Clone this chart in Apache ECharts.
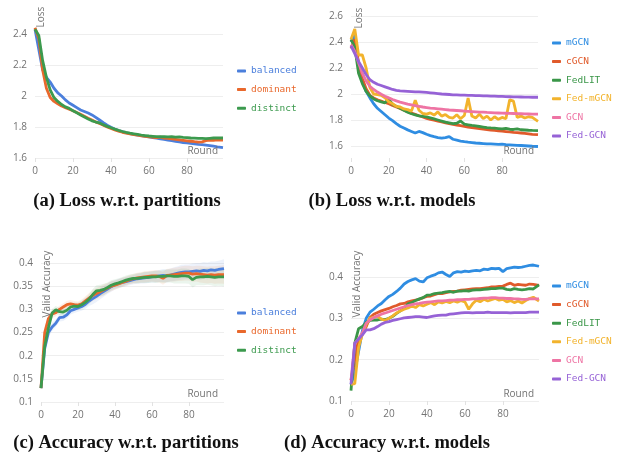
<!DOCTYPE html>
<html>
<head>
<meta charset="utf-8">
<script src="https://cdn.jsdelivr.net/npm/echarts@6/dist/echarts.min.js"></script>
<style>
html, body { margin: 0; padding: 0; background: #fff; }
#main { width: 621px; height: 469px; }
</style>
</head>
<body>
<div id="main"></div>
<script>
var rounds = [0,2,4,6,8,10,12,14,16,18,20,22,24,26,28,30,32,34,36,38,
  40,42,44,46,48,50,52,54,56,58,60,62,64,66,68,70,72,74,76,78,
  80,82,84,86,88,90,92,94,96,99];
var xTicks = [0, 20, 40, 60, 80];

var partitions = ['balanced', 'dominant', 'distinct'];
var models = ['mGCN', 'cGCN', 'FedLIT', 'Fed-mGCN', 'GCN', 'Fed-GCN'];

// (a) loss w.r.t. partitions
var lossBalanced = [2.43,2.30,2.17,2.12,2.09,2.05,2.02,2.00,1.975,1.955,
  1.94,1.925,1.91,1.90,1.89,1.878,1.862,1.845,1.828,1.812,
  1.798,1.787,1.777,1.770,1.763,1.757,1.752,1.748,1.744,1.740,
  1.736,1.732,1.728,1.724,1.720,1.716,1.712,1.708,1.704,1.700,
  1.697,1.694,1.691,1.688,1.686,1.683,1.680,1.676,1.672,1.667];
var lossDominant = [2.44,2.37,2.17,2.05,1.99,1.965,1.95,1.935,1.925,1.915,
  1.905,1.893,1.882,1.870,1.857,1.845,1.833,1.822,1.811,1.800,
  1.790,1.781,1.773,1.766,1.760,1.755,1.751,1.747,1.743,1.740,
  1.737,1.734,1.732,1.735,1.728,1.726,1.723,1.720,1.717,1.714,
  1.711,1.708,1.705,1.703,1.704,1.712,1.716,1.714,1.717,1.716];
var lossDistinct = [2.43,2.39,2.23,2.12,2.04,1.99,1.965,1.945,1.93,1.92,
  1.905,1.892,1.878,1.865,1.852,1.840,1.832,1.826,1.815,1.804,
  1.795,1.786,1.778,1.771,1.765,1.760,1.756,1.752,1.748,1.745,
  1.742,1.740,1.738,1.737,1.738,1.736,1.737,1.735,1.736,1.733,
  1.731,1.729,1.728,1.727,1.726,1.725,1.727,1.729,1.730,1.729];

// (b) loss w.r.t. models
var lossMGCN = [2.40,2.45,2.22,2.10,2.02,1.97,1.925,1.89,1.865,1.84,
  1.815,1.795,1.772,1.752,1.738,1.724,1.712,1.700,1.712,1.703,
  1.690,1.680,1.672,1.665,1.660,1.664,1.672,1.652,1.645,1.638,
  1.633,1.629,1.626,1.623,1.621,1.619,1.617,1.616,1.614,1.612,
  1.615,1.611,1.609,1.607,1.605,1.604,1.602,1.600,1.598,1.596];
var lossCGCN = [2.35,2.42,2.24,2.12,2.04,1.99,1.97,1.955,1.945,1.935,
  1.925,1.912,1.900,1.888,1.876,1.864,1.853,1.843,1.833,1.823,
  1.813,1.805,1.798,1.791,1.785,1.778,1.772,1.766,1.761,1.756,
  1.751,1.746,1.742,1.738,1.734,1.730,1.727,1.723,1.720,1.717,
  1.714,1.711,1.708,1.705,1.703,1.700,1.697,1.694,1.690,1.687];
var lossFedLIT = [2.42,2.36,2.16,2.08,2.02,1.985,1.962,1.948,1.94,1.932,
  1.962,1.920,1.905,1.890,1.875,1.860,1.848,1.840,1.832,1.828,
  1.824,1.816,1.808,1.800,1.792,1.784,1.778,1.772,1.775,1.792,
  1.768,1.763,1.758,1.754,1.750,1.746,1.742,1.739,1.737,1.734,
  1.731,1.735,1.729,1.727,1.732,1.725,1.723,1.721,1.720,1.719];
var lossFedMGCN = [2.42,2.50,2.30,2.30,2.20,2.05,2.00,1.995,1.99,1.97,
  1.94,1.925,1.905,1.900,1.885,1.880,1.868,1.952,1.875,1.850,
  1.845,1.855,1.838,1.862,1.830,1.842,1.820,1.815,1.840,1.810,
  1.835,1.968,1.830,1.815,1.845,1.810,1.830,1.800,1.825,1.805,
  1.820,1.810,1.955,1.945,1.820,1.830,1.815,1.825,1.820,1.790];
var lossGCN = [2.38,2.33,2.24,2.16,2.10,2.06,2.035,2.015,1.998,1.983,
  1.970,1.958,1.947,1.938,1.930,1.922,1.916,1.910,1.905,1.900,
  1.896,1.892,1.889,1.886,1.883,1.880,1.877,1.875,1.873,1.871,
  1.869,1.867,1.865,1.863,1.861,1.860,1.858,1.857,1.855,1.854,
  1.853,1.852,1.851,1.850,1.849,1.848,1.847,1.846,1.845,1.845];
var lossFedGCN = [2.37,2.31,2.25,2.20,2.15,2.11,2.09,2.075,2.065,2.055,
  2.045,2.035,2.028,2.024,2.022,2.020,2.018,2.016,2.016,2.014,
  2.012,2.009,2.006,2.003,2.000,1.998,1.996,1.994,1.993,1.992,
  1.991,1.990,1.989,1.988,1.987,1.986,1.985,1.984,1.983,1.982,
  1.981,1.980,1.979,1.978,1.978,1.977,1.976,1.976,1.975,1.975];

// (c) accuracy w.r.t. partitions
var accBalanced = [0.13,0.215,0.25,0.262,0.27,0.282,0.283,0.288,0.297,0.30,
  0.303,0.306,0.311,0.318,0.323,0.328,0.334,0.339,0.344,0.349,
  0.353,0.356,0.358,0.36,0.362,0.364,0.366,0.367,0.368,0.369,
  0.37,0.371,0.372,0.373,0.372,0.374,0.376,0.378,0.38,0.381,
  0.381,0.382,0.383,0.382,0.384,0.383,0.385,0.384,0.386,0.388];
var accDominant = [0.13,0.25,0.28,0.29,0.293,0.30,0.305,0.31,0.312,0.31,
  0.309,0.312,0.318,0.324,0.33,0.334,0.338,0.342,0.346,0.35,
  0.352,0.355,0.358,0.361,0.364,0.366,0.368,0.369,0.37,0.371,
  0.372,0.372,0.371,0.367,0.373,0.374,0.375,0.376,0.377,0.378,
  0.378,0.376,0.377,0.376,0.375,0.374,0.375,0.374,0.375,0.375];
var accDistinct = [0.13,0.22,0.26,0.292,0.299,0.295,0.294,0.298,0.305,0.307,
  0.306,0.31,0.315,0.322,0.332,0.34,0.341,0.343,0.347,0.352,
  0.355,0.357,0.36,0.363,0.365,0.367,0.367,0.368,0.369,0.369,
  0.37,0.37,0.371,0.371,0.372,0.372,0.371,0.371,0.372,0.372,
  0.371,0.364,0.369,0.37,0.37,0.371,0.37,0.369,0.37,0.37];
// half width of the shaded band round each partition curve
var accSpread = [0.004,0.010,0.010,0.009,0.008,0.008,0.008,0.008,0.008,0.008,
  0.008,0.009,0.010,0.011,0.012,0.012,0.012,0.012,0.011,0.011,
  0.010,0.010,0.010,0.010,0.010,0.010,0.011,0.011,0.012,0.012,
  0.012,0.013,0.013,0.014,0.014,0.014,0.015,0.015,0.016,0.016,
  0.016,0.017,0.017,0.018,0.018,0.018,0.018,0.019,0.019,0.020];

// (d) accuracy w.r.t. models
var accMGCN = [0.14,0.17,0.22,0.27,0.30,0.315,0.322,0.33,0.336,0.345,
  0.353,0.358,0.365,0.373,0.383,0.389,0.393,0.396,0.39,0.388,
  0.398,0.402,0.405,0.41,0.412,0.406,0.401,0.41,0.413,0.412,
  0.414,0.413,0.415,0.416,0.415,0.419,0.418,0.421,0.42,0.421,
  0.413,0.42,0.422,0.424,0.423,0.424,0.426,0.428,0.429,0.426];
var accCGCN = [0.15,0.20,0.25,0.262,0.28,0.302,0.31,0.314,0.318,0.321,
  0.324,0.328,0.331,0.335,0.336,0.34,0.342,0.344,0.346,0.35,
  0.353,0.354,0.357,0.36,0.36,0.362,0.364,0.365,0.366,0.368,
  0.369,0.37,0.371,0.372,0.372,0.373,0.374,0.376,0.376,0.377,
  0.378,0.382,0.385,0.38,0.382,0.381,0.38,0.383,0.382,0.38];
var accFedLIT = [0.125,0.24,0.275,0.28,0.29,0.295,0.296,0.296,0.298,0.297,
  0.30,0.305,0.312,0.318,0.325,0.335,0.338,0.343,0.347,0.35,
  0.356,0.357,0.36,0.361,0.362,0.364,0.365,0.363,0.366,0.366,
  0.367,0.366,0.368,0.369,0.369,0.37,0.371,0.372,0.372,0.373,
  0.373,0.37,0.369,0.372,0.37,0.369,0.37,0.372,0.371,0.381];
var accFedMGCN = [0.14,0.142,0.23,0.262,0.285,0.30,0.303,0.305,0.298,0.295,
  0.30,0.306,0.313,0.318,0.322,0.325,0.33,0.326,0.333,0.33,
  0.334,0.338,0.333,0.34,0.337,0.341,0.338,0.342,0.339,0.343,
  0.34,0.322,0.335,0.344,0.34,0.346,0.342,0.345,0.348,0.344,
  0.346,0.34,0.343,0.338,0.342,0.337,0.343,0.348,0.351,0.342];
var accGCN = [0.15,0.24,0.25,0.265,0.288,0.296,0.302,0.306,0.31,0.313,
  0.316,0.319,0.322,0.325,0.328,0.331,0.333,0.335,0.336,0.338,
  0.339,0.34,0.341,0.342,0.342,0.343,0.344,0.344,0.345,0.345,
  0.346,0.346,0.347,0.347,0.348,0.349,0.349,0.35,0.35,0.349,
  0.349,0.348,0.348,0.347,0.347,0.346,0.346,0.347,0.347,0.347];
var accFedGCN = [0.14,0.24,0.25,0.26,0.272,0.272,0.275,0.28,0.286,0.29,
  0.292,0.295,0.297,0.299,0.301,0.302,0.303,0.304,0.304,0.303,
  0.302,0.304,0.306,0.307,0.308,0.308,0.31,0.311,0.312,0.313,
  0.314,0.314,0.313,0.314,0.314,0.314,0.315,0.314,0.314,0.314,
  0.314,0.314,0.313,0.314,0.314,0.314,0.314,0.315,0.315,0.315];

var partColors = ['#4b7fdc', '#e9682c', '#3c9a4e'];
var modelColors = ['#2f8de2', '#e05a2b', '#3a9648', '#f2b32c', '#ee74a4', '#9662d6'];
var grey = '#737373';

function pairs(vals) {
    return rounds.map(function (r, i) { return [r, vals[i]]; });
}

function line(name, vals, idx, color) {
    return {
        name: name, type: 'line', xAxisIndex: idx, yAxisIndex: idx,
        data: pairs(vals), symbol: 'none', clip: false, z: 3,
        lineStyle: {width: 2.8, color: color},
        itemStyle: {color: color}
    };
}

// shaded std band drawn as one polygon through the axis scales
function band(vals, idx, color) {
    return {
        type: 'custom', xAxisIndex: idx, yAxisIndex: idx, silent: true, z: 1,
        data: [[0, vals[0]]],
        renderItem: function (params, api) {
            var up = rounds.map(function (r, i) { return api.coord([r, vals[i] + accSpread[i]]); });
            var down = rounds.map(function (r, i) { return api.coord([r, vals[i] - accSpread[i]]); }).reverse();
            return {
                type: 'polygon', shape: {points: up.concat(down)},
                style: {fill: color, opacity: 0.1}
            };
        }
    };
}

function xAxis(i, offset) {
    return {
        gridIndex: i, type: 'value', min: 0, max: 99, offset: offset || 0,
        axisLine: {show: false},
        axisTick: {show: true, length: 4, customValues: xTicks, lineStyle: {color: '#e2e2e2'}},
        axisLabel: {color: grey, fontSize: 10, fontFamily: 'Open Sans', margin: 8, customValues: xTicks},
        splitLine: {show: false}
    };
}

function yAxis(i, min, max, step) {
    return {
        gridIndex: i, type: 'value', min: min, max: max, interval: step,
        axisLine: {show: false}, axisTick: {show: false},
        axisLabel: {color: grey, fontSize: 10, fontFamily: 'Open Sans', margin: 8},
        splitLine: {lineStyle: {color: '#eeeeee'}}
    };
}

function legend(names, colors, left, top) {
    return {
        orient: 'vertical', left: left, top: top, padding: 0, itemGap: 6.6,
        icon: 'roundRect', itemWidth: 9, itemHeight: 3,
        textStyle: {fontFamily: 'DejaVu Sans Mono', fontSize: 9.5, lineHeight: 12},
        data: names.map(function (n, i) { return {name: n, textStyle: {color: colors[i]}}; })
    };
}

function label(text, x, y, rotate) {
    return {
        type: 'text', x: x, y: y, rotation: rotate ? Math.PI / 2 : 0, z: 10,
        style: {text: text, fill: grey, font: '10px "Open Sans"',
                textAlign: rotate ? 'center' : 'right', textVerticalAlign: 'middle'}
    };
}

function caption(text, x, y) {
    return {
        type: 'text', x: x, y: y, z: 10,
        style: {text: text, fill: '#111', font: 'bold 18.5px "Liberation Serif"',
                textAlign: 'center', textVerticalAlign: 'middle'}
    };
}

var series = [];
[lossBalanced, lossDominant, lossDistinct].forEach(function (v, i) {
    series.push(line(partitions[i], v, 0, partColors[i]));
});
[lossMGCN, lossCGCN, lossFedLIT, lossFedMGCN, lossGCN, lossFedGCN].forEach(function (v, i) {
    series.push(line(models[i], v, 1, modelColors[i]));
});
[accBalanced, accDominant, accDistinct].forEach(function (v, i) {
    series.push(band(v, 2, partColors[i]));
});
[accBalanced, accDominant, accDistinct].forEach(function (v, i) {
    series.push(line(partitions[i], v, 2, partColors[i]));
});
[accMGCN, accCGCN, accFedLIT, accFedMGCN, accGCN, accFedGCN].forEach(function (v, i) {
    series.push(line(models[i], v, 3, modelColors[i]));
});

var option = {
    backgroundColor: '#fff',
    animation: false,
    grid: [
        {left: 35, top: 34, width: 188, height: 124},
        {left: 351, top: 16, width: 187, height: 130},
        {left: 41, top: 263, width: 183, height: 139},
        {left: 351, top: 277, width: 188, height: 124}
    ],
    xAxis: [xAxis(0), xAxis(1, 12), xAxis(2), xAxis(3)],
    yAxis: [
        yAxis(0, 1.6, 2.4, 0.2),
        yAxis(1, 1.6, 2.6, 0.2),
        yAxis(2, 0.1, 0.4, 0.05),
        yAxis(3, 0.1, 0.4, 0.1)
    ],
    legend: [
        legend(partitions, partColors, 237, 65),
        legend(models, modelColors, 552, 37),
        legend(partitions, partColors, 237, 307),
        legend(models, modelColors, 552, 280)
    ],
    graphic: [
        label('Loss', 41, 17, true),
        label('Loss', 359, 18, true),
        label('Valid Accuracy', 47, 284, true),
        label('Valid Accuracy', 357, 284, true),
        label('Round', 218, 151),
        label('Round', 534, 151),
        label('Round', 218, 394),
        label('Round', 534, 394),
        caption('(a) Loss w.r.t. partitions', 127, 201),
        caption('(b) Loss w.r.t. models', 392, 201),
        caption('(c) Accuracy w.r.t. partitions', 126, 443),
        caption('(d) Accuracy w.r.t. models', 387, 443)
    ],
    series: series
};

var myChart = echarts.init(document.getElementById('main'));
myChart.setOption(option);
</script>
</body>
</html>
